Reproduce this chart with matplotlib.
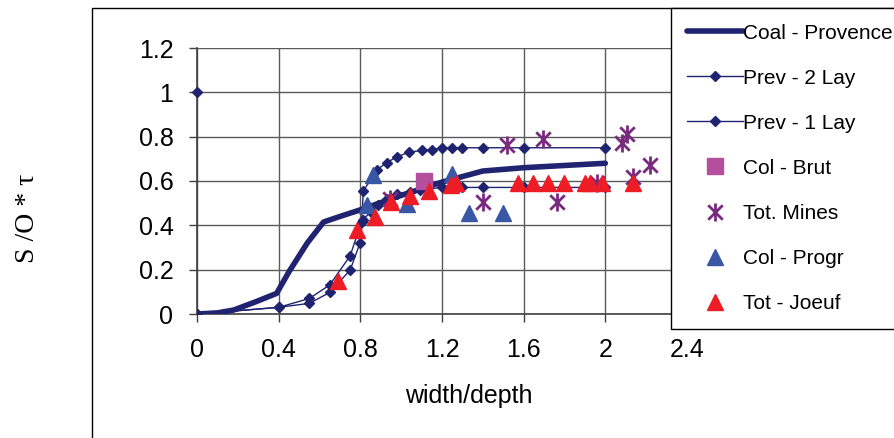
import numpy as np
import matplotlib
matplotlib.use('Agg')
import matplotlib.pyplot as plt
from matplotlib.path import Path
from matplotlib.patches import Rectangle

plt.rcParams['font.family'] = ['Liberation Sans', 'DejaVu Sans']

# Coal - Provence (thick curve)
coal_x = [0, 0.1, 0.18, 0.29, 0.39, 0.45, 0.54, 0.62, 0.7, 0.8, 1.0, 1.2, 1.4, 1.6, 1.8, 2.0]
coal_y = [0, 0.005, 0.018, 0.056, 0.093, 0.19, 0.32, 0.415, 0.44, 0.47, 0.535, 0.595, 0.645, 0.66, 0.67, 0.68]

# Prev - 2 Lay (upper plateau ~0.75)
prev2_x = [0, 0.4, 0.55, 0.65, 0.75, 0.806, 0.815, 0.88, 0.93, 0.98, 1.04, 1.1, 1.15, 1.2, 1.25, 1.3, 1.4, 1.6, 2.0]
prev2_y = [0, 0.03, 0.07, 0.131, 0.262, 0.417, 0.555, 0.65, 0.683, 0.71, 0.73, 0.738, 0.742, 0.75, 0.75, 0.75, 0.75, 0.75, 0.75]

# Prev - 1 Lay (lower plateau ~0.57)
prev1_x = [0, 0.4, 0.55, 0.65, 0.75, 0.798, 0.812, 0.85, 0.888, 0.93, 0.978, 1.043, 1.092, 1.2, 1.3, 1.4, 1.6, 2.0]
prev1_y = [0, 0.03, 0.048, 0.097, 0.198, 0.319, 0.424, 0.46, 0.49, 0.52, 0.541, 0.552, 0.56, 0.571, 0.571, 0.571, 0.571, 0.571]

# isolated diamond at the top of the y axis
lone_x = [0]
lone_y = [1.0]

colbrut_x = [1.11]
colbrut_y = [0.6]

mines_x = [0.945, 1.40, 1.516, 1.696, 1.762, 1.957, 2.08, 2.107, 2.137, 2.218]
mines_y = [0.52, 0.507, 0.762, 0.789, 0.507, 0.59, 0.773, 0.812, 0.62, 0.672]

progr_x = [0.831, 0.864, 1.027, 1.247, 1.332, 1.497]
progr_y = [0.49, 0.627, 0.495, 0.632, 0.456, 0.454]

joeuf_x = [0.692, 0.782, 0.872, 0.948, 1.043, 1.138, 1.242, 1.268, 1.571, 1.644, 1.72, 1.799, 1.9, 1.925, 1.982, 2.137]
joeuf_y = [0.15, 0.379, 0.436, 0.507, 0.534, 0.557, 0.582, 0.59, 0.592, 0.592, 0.592, 0.592, 0.592, 0.592, 0.592, 0.592]

xticks = [0, 0.4, 0.8, 1.2, 1.6, 2.0, 2.4]
xticklabels = ['0', '0.4', '0.8', '1.2', '1.6', '2', '2.4']
yticks = [0, 0.2, 0.4, 0.6, 0.8, 1.0, 1.2]
yticklabels = ['0', '0.2', '0.4', '0.6', '0.8', '1', '1.2']

navy = '#1f2370'

# asterisk: vertical bar + X
star = Path([(0, -1), (0, 1), (-0.8, -0.8), (0.8, 0.8), (-0.8, 0.8), (0.8, -0.8)],
            [Path.MOVETO, Path.LINETO, Path.MOVETO, Path.LINETO, Path.MOVETO, Path.LINETO])

fig = plt.figure(figsize=(8.95, 4.38), dpi=100)
ax = fig.add_axes([197/895, 1-314/438, 490/895, 266/438])

ax.plot(coal_x, coal_y, color=navy, lw=4, solid_capstyle='round', label='Coal - Provence', zorder=3)
ax.plot(prev2_x, prev2_y, color=navy, lw=1, marker='D', ms=5.5, label='Prev - 2 Lay', zorder=4)
ax.plot(prev1_x, prev1_y, color=navy, lw=1, marker='D', ms=5.5, label='Prev - 1 Lay', zorder=5)
ax.plot(lone_x, lone_y, color=navy, ls='none', marker='D', ms=5.5, zorder=5, clip_on=False)
ax.plot(colbrut_x, colbrut_y, color='#b44f9e', ls='none', marker='s', ms=11, label='Col - Brut', zorder=6)
ax.plot(mines_x, mines_y, color='#7a2a7e', ls='none', marker=star, ms=13, mew=2, label='Tot. Mines', zorder=7)
ax.plot(progr_x, progr_y, color='#3a57a6', ls='none', marker='^', ms=11, label='Col - Progr', zorder=8)
ax.plot(joeuf_x, joeuf_y, color='#ee1c24', ls='none', marker='^', ms=11, label='Tot - Joeuf', zorder=9)

ax.set_xlim(0, 2.4)
ax.set_ylim(0, 1.2)
ax.set_xticks(xticks, xticklabels, fontsize=18)
ax.set_yticks(yticks, yticklabels, fontsize=18)
ax.tick_params(direction='out', length=6, width=1, color='#404040', pad=11)
ax.grid(True, color='#5a5a5a', lw=1)
ax.set_axisbelow(True)
for s in ['top', 'right']:
    ax.spines[s].set_visible(False)
for s in ['left', 'bottom']:
    ax.spines[s].set_color('#404040')
    ax.spines[s].set_linewidth(1.2)

ax.set_xlabel('width/depth', fontsize=18, va='center')
ax.xaxis.set_label_coords((469-197)/490, (314-396)/266)

fig.text(28/895, 1-218/438, 'S /O * τ', rotation=90, ha='center', va='center',
         fontsize=20, family='Liberation Serif')

# outer plot frame (left and top edges visible)
fig.add_artist(Rectangle((92/895, -0.2), 1.0, 1.2 - 8/438, transform=fig.transFigure,
                         fill=False, edgecolor='black', lw=1, clip_on=False))

handles, labels = ax.get_legend_handles_labels()
leg = fig.legend(handles, labels, loc='upper left', bbox_to_anchor=(671/895, 1-8/438),
                 bbox_transform=fig.transFigure, borderaxespad=0, fancybox=False,
                 edgecolor='black', framealpha=1, fontsize=15, labelspacing=1.25,
                 handlelength=2.7, handletextpad=0.0, borderpad=0.75)
leg.get_frame().set_linewidth(1.0)

fig.savefig('out.png', dpi=100)
